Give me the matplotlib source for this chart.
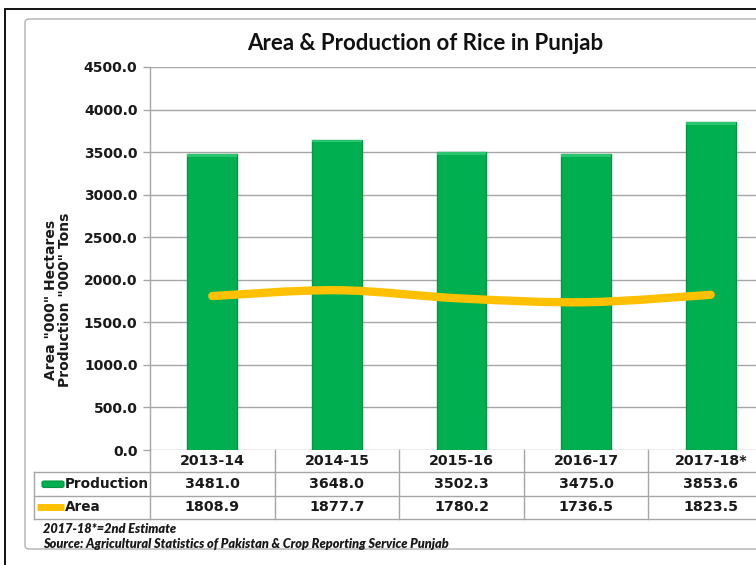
import numpy as np
import matplotlib
matplotlib.use("Agg")
import matplotlib.pyplot as plt
from matplotlib.patches import Rectangle, FancyBboxPatch
from matplotlib.lines import Line2D
from matplotlib.path import Path
from matplotlib.patches import PathPatch
import matplotlib.transforms as mtransforms

# ---- data ----
years = ["2013-14", "2014-15", "2015-16", "2016-17", "2017-18*"]
production = [3481.0, 3648.0, 3502.3, 3475.0, 3853.6]
area = [1808.9, 1877.7, 1780.2, 1736.5, 1823.5]
yticks = [0, 500, 1000, 1500, 2000, 2500, 3000, 3500, 4000, 4500]
title = "Area & Production of Rice in Punjab"
ylabel = 'Area "000" Hectares\nProduction "000" Tons'
note1 = "2017-18*=2nd Estimate"
note2 = "Source: Agricultural Statistics of Pakistan & Crop Reporting Service Punjab"

W, H = 756, 565
fig = plt.figure(figsize=(W / 100, H / 100), dpi=100)
fig.patch.set_facecolor("white")

def fx(x):
    return x / W

def fy(y):
    return 1 - y / H

GRID = "#A6A6A6"
GREEN = "#00B050"
GOLD = "#FFC000"
TXT = "#1a1a1a"

# outer borders
fig.add_artist(Rectangle((fx(4.5), fy(600)), fx(900), fy(9) - fy(600), transform=fig.transFigure,
                         fill=False, edgecolor="black", linewidth=1.3))
fig.add_artist(FancyBboxPatch((fx(25), fy(549)), fx(900), fy(19) - fy(549), transform=fig.transFigure,
                              boxstyle="round,pad=0,rounding_size=0.006",
                              fill=False, edgecolor="#B0B0B0", linewidth=1.0))

# axes
left, right, top, bottom = 150, 773, 67, 450
ax = fig.add_axes([fx(left), fy(bottom), (right - left) / W, (bottom - top) / H])
ax.set_facecolor("none")
x = np.arange(len(years))
ax.set_xlim(-0.5, len(years) - 0.5)
ax.set_ylim(0, 4500)
ax.set_yticks(yticks)
ax.set_yticklabels([f"{v:.1f}" for v in yticks], fontsize=10, fontweight="bold",
                   family="DejaVu Sans", color=TXT)
ax.set_xticks([])
for s in ["top", "right", "bottom"]:
    ax.spines[s].set_visible(False)
ax.spines["left"].set_color(GRID)
ax.spines["left"].set_linewidth(1)
ax.tick_params(axis="y", length=5, color=GRID, width=1, pad=4)
ax.yaxis.grid(True, color=GRID, linewidth=1)
ax.set_axisbelow(True)

# bars
ax.bar(x, production, width=0.4, color=GREEN, edgecolor="#079447", linewidth=1.0, zorder=2)
# top highlight cap
ax.bar(x, [35] * len(x), bottom=np.array(production) - 35, width=0.4, color="#2CC56F",
       edgecolor="none", zorder=3)

# smooth line (Catmull-Rom style, like Excel smoothed line)
px = np.array(x, dtype=float)
py = np.array(area, dtype=float)
verts = [(px[0], py[0])]
codes = [Path.MOVETO]
n = len(px)
for i in range(n - 1):
    p0 = (px[max(i - 1, 0)], py[max(i - 1, 0)])
    p1 = (px[i], py[i])
    p2 = (px[i + 1], py[i + 1])
    p3 = (px[min(i + 2, n - 1)], py[min(i + 2, n - 1)])
    c1 = (p1[0] + (p2[0] - p0[0]) / 6, p1[1] + (p2[1] - p0[1]) / 6)
    c2 = (p2[0] - (p3[0] - p1[0]) / 6, p2[1] - (p3[1] - p1[1]) / 6)
    verts += [c1, c2, p2]
    codes += [Path.CURVE4] * 3
ax.add_patch(PathPatch(Path(verts, codes), fill=False, edgecolor=GOLD, linewidth=6.0,
                       capstyle="round", zorder=4))

# y label
fig.text(fx(58), fy(300), ylabel, rotation=90, ha="center", va="center", fontsize=10,
         fontweight="bold", family="DejaVu Sans", linespacing=1.0, color=TXT)

# title
fig.text(fx(425), fy(43), title, ha="center", va="center", fontsize=16, fontweight="bold",
         family="Lato", color="#111111")

# data table
blend = mtransforms.blended_transform_factory(ax.transData, fig.transFigure)
row_y = [461, 484, 507]
hlines = [472, 496, 519]
for yy in hlines:
    fig.add_artist(Line2D([fx(34), fx(900)], [fy(yy), fy(yy)], transform=fig.transFigure,
                          color=GRID, linewidth=1))
fig.add_artist(Line2D([fx(34), fx(34)], [fy(472), fy(519)], transform=fig.transFigure,
                      color=GRID, linewidth=1))
for b in np.arange(len(years) + 1) - 0.5:
    fig.add_artist(Line2D([b, b], [fy(450), fy(519)], transform=blend, color=GRID, linewidth=1))

tkw = dict(ha="center", va="center", fontsize=10.3, fontweight="bold", family="DejaVu Sans",
           color=TXT)
for i, yr in enumerate(years):
    fig.text(i, fy(row_y[0]), yr, transform=blend, **tkw)
    fig.text(i, fy(row_y[1]), f"{production[i]:.1f}", transform=blend, **tkw)
    fig.text(i, fy(row_y[2]), f"{area[i]:.1f}", transform=blend, **tkw)

# row headers with legend keys
fig.add_artist(FancyBboxPatch((fx(42), fy(487.5)), fx(22), fy(481) - fy(487.5), transform=fig.transFigure,
                              boxstyle="round,pad=0,rounding_size=0.003",
                              facecolor=GREEN, edgecolor="#079447", linewidth=0.8))
fig.add_artist(Line2D([fx(37), fx(64)], [fy(507), fy(507)], transform=fig.transFigure,
                      color=GOLD, linewidth=5, solid_capstyle="butt"))
fig.text(fx(64.5), fy(row_y[1]), "Production", ha="left", va="center", fontsize=9.8,
         fontweight="bold", family="DejaVu Sans", color=TXT)
fig.text(fx(64.5), fy(row_y[2]), "Area", ha="left", va="center", fontsize=9.8,
         fontweight="bold", family="DejaVu Sans", color=TXT)

# notes
fig.text(fx(43), fy(529), note1, ha="left", va="center", fontsize=9.2, fontweight="heavy",
         style="italic", family="Lato", color=TXT)
fig.text(fx(43), fy(544), note2, ha="left", va="center", fontsize=9.2, fontweight="heavy",
         style="italic", family="Lato", color=TXT)

fig.savefig("out.png", dpi=100)
